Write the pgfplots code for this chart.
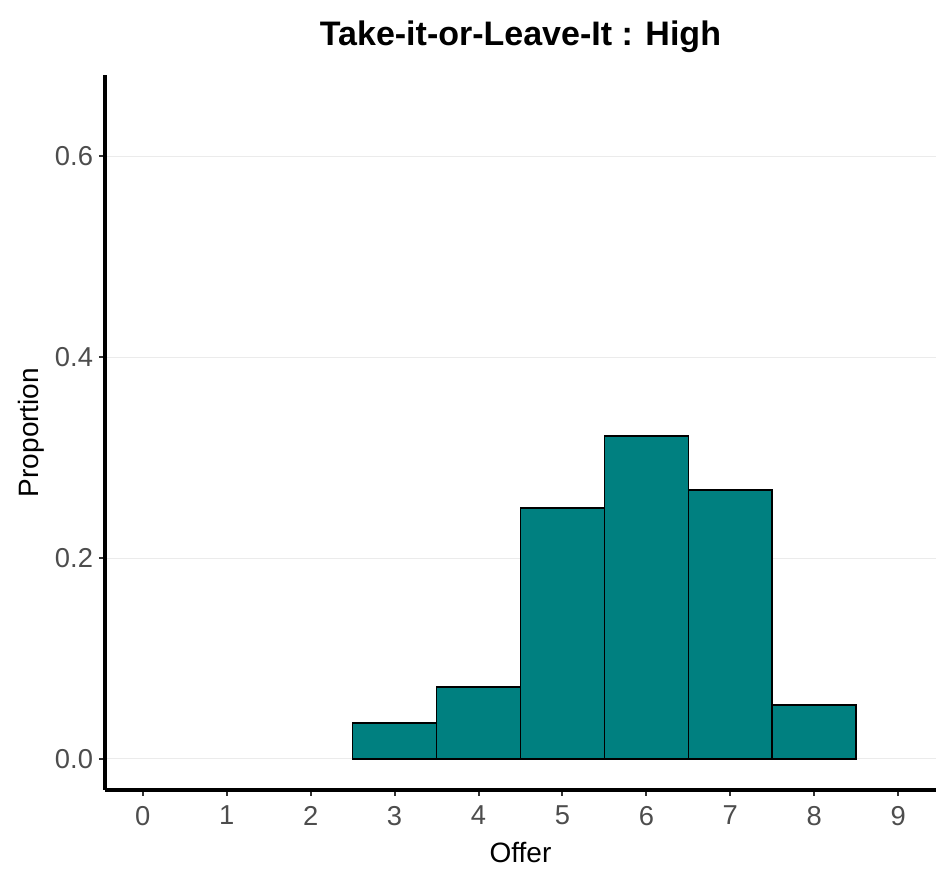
\documentclass[border=0pt]{standalone}
\usepackage{fontspec}
\setmainfont{Liberation Sans}
\usepackage{pgfplots}
\pgfplotsset{compat=1.18}
\definecolor{barfill}{HTML}{008080}
\definecolor{ticklab}{HTML}{4D4D4D}
\definecolor{tickcol}{HTML}{333333}
\definecolor{gridcol}{HTML}{EBEBEB}
\begin{document}
\begin{tikzpicture}
\path[use as bounding box] (-78.75pt,-66pt) rectangle (626.25pt,592.5pt);
\begin{axis}[
  at={(0,0)}, anchor=south west,
  scale only axis,
  width=623.25pt, height=536.25pt,
  xmin=-0.45, xmax=9.45,
  ymin=-0.031, ymax=0.681,
  axis x line*=bottom, axis y line*=left,
  axis line style={black, line width=2.4pt, -},
  xtick={0,1,...,9},
  ytick={0,0.2,0.4,0.6},
  yticklabel style={/pgf/number format/fixed, /pgf/number format/fixed zerofill, /pgf/number format/precision=1},
  /pgf/number format/assume math mode=true,
  tick align=outside,
  major tick length=4.5pt,
  tick style={tickcol, line width=1.5pt},
  ticklabel style={font=\fontsize{20.5}{24}\selectfont, text=ticklab},
  xticklabel style={yshift=-4pt},
  yticklabel style={xshift=-1pt},
  ymajorgrids, grid style={gridcol, line width=0.75pt},
  title={\textbf{Take-it-or-Leave-It : High}},
  title style={font=\fontsize{25.5}{30}\selectfont, at={(0.5,1)}, anchor=base, yshift=16pt},
  xlabel={Offer}, ylabel={Proportion},
  label style={font=\fontsize{21}{25}\selectfont},
  xlabel style={at={(axis description cs:0.5,0)}, anchor=center, yshift=-47pt},
  ylabel style={at={(axis description cs:-0.0882,0.5)}, anchor=center},
  clip=false,
]
\addplot[ybar, bar width=1, fill=barfill, draw=black, line width=1.3pt] coordinates {
  (3,0.0357) (4,0.0714) (5,0.25) (6,0.3214) (7,0.2679) (8,0.0536)
};
\end{axis}
\end{tikzpicture}
\end{document}
